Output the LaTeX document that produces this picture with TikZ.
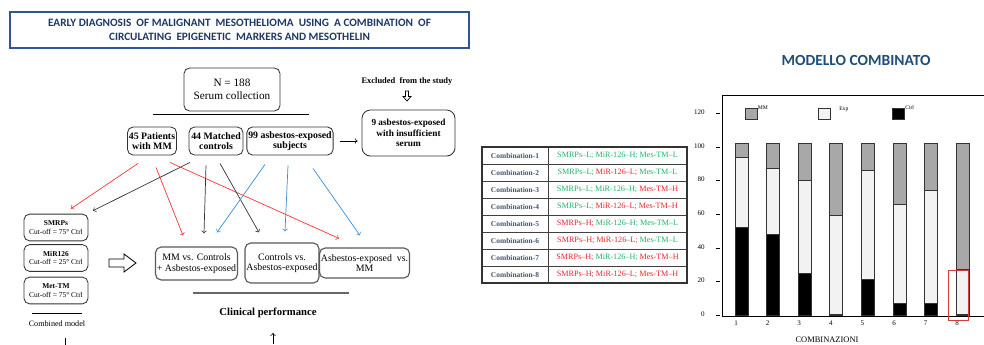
\documentclass[tikz,border=0pt]{standalone}
\usepackage{fontspec}
\setmainfont{Liberation Serif}
\newfontfamily\calibfont{Carlito}
\usepackage{xcolor}
\usetikzlibrary{arrows.meta, positioning, calc}
\definecolor{titleblue}{HTML}{1F3864}
\definecolor{boxblue}{HTML}{2F5597}
\definecolor{mcblue}{HTML}{1F4E79}
\definecolor{tblgray}{HTML}{44546A}
\definecolor{okg}{HTML}{1FB36B}
\definecolor{badr}{HTML}{E8242A}
\definecolor{arrred}{HTML}{FF3434}
\definecolor{arrblue}{HTML}{3A8ED2}
\definecolor{mmfill}{HTML}{A8A8A8}
\definecolor{expfill}{HTML}{F2F2F2}
\definecolor{markred}{HTML}{D23C3C}
\tikzstyle{conn} = [line width=0.5pt,->,>=to]
\tikzset{
  titlebox/.style = {draw = boxblue, line width = 1.4pt, minimum width = 11.475cm,
                     minimum height = 0.9cm, align = center, text = titleblue,
                     font = \calibfont\bfseries\fontsize{8}{9.6}\selectfont},
  flowbox/.style  = {draw = black!80, rounded corners = 4pt, align = center, inner sep = 1pt,
                     line width = 0.6pt},
  subjbox/.style  = {flowbox, minimum height = 0.7cm,
                     font = \bfseries\fontsize{7}{7.6}\selectfont},
  cutbox/.style   = {flowbox, minimum width = 1.6cm, minimum height = 0.67cm,
                     font = \fontsize{5.3}{6}\selectfont},
  cmpbox/.style   = {flowbox, draw = black!65, line width = 0.8pt,
                     font = \fontsize{7}{7.4}\selectfont},
  tblline/.style  = {draw = black!75, line width = 0.5pt},
  tbllab/.style   = {text = tblgray, font = \bfseries\fontsize{5.3}{6}\selectfont},
  tblval/.style   = {font = \fontsize{5.8}{6.5}\selectfont},
  barline/.style  = {draw = black!80, line width = 0.6pt},
  ticklab/.style  = {inner sep = 0pt, font = \fontsize{5}{5.5}\selectfont},
  legtxt/.style   = {inner sep = 0pt, font = \fontsize{4}{4.5}\selectfont}
}

\begin{document}
\begin{tikzpicture}[x=0.025cm, y=-0.025cm]
\useasboundingbox[fill=white] (0,0) rectangle (984,344);

% Title banner
\node[titlebox] (title) at (239.5,30) {EARLY DIAGNOSIS\ \ OF MALIGNANT\ \ MESOTHELIOMA\ \ USING\ \ A COMBINATION\ \ OF\\CIRCULATING\ \ EPIGENETIC\ \ MARKERS AND MESOTHELIN};

% Serum collection and the three groups
\node[flowbox, minimum width=2.4cm, minimum height=1.075cm, font=\fontsize{8}{9.4}\selectfont] (serum) at (232,89.5) {N = 188\\Serum collection};
\draw[line width=0.6pt] (153,114) -- (309,114);
\node[subjbox, minimum width=1.2cm] (mm45) at (152,141) {45 Patients\\with MM};
\node[subjbox, minimum width=1.35cm] (ctl44) at (216,141) {44 Matched\\controls};
\node[subjbox, minimum width=2.1cm] (asb99) at (290,141) {99 asbestos-exposed\\subjects};

% Excluded subjects
\node[font=\bfseries\fontsize{6}{6.5}\selectfont] (excltxt) at (407,81) {Excluded\ \ from the study};
\draw[line width=0.5pt] (405.5,91) -- (408.5,91) -- (408.5,96.5) -- (411,96.5) -- (407,101) -- (403,96.5) -- (405.5,96.5) -- cycle;
\node[subjbox, minimum width=2.325cm, minimum height=1.15cm, rounded corners=6pt, font=\bfseries\fontsize{6.6}{7.4}\selectfont] (excl) at (408.5,133) {9 asbestos-exposed\\with insufficient\\serum};
\draw[conn] ([shift={(6,0)}]asb99.east) -- ([shift={(-4,8)}]excl.west);

% Markers and combined model
\node[cutbox] (smrp) at (56,227.5) {\textbf{SMRPs}\\Cut-off = 75° Ctrl};
\node[cutbox] (mir) at (56,258) {\textbf{MiR126}\\Cut-off = 25° Ctrl};
\node[cutbox] (met) at (56,290.5) {\textbf{Met-TM}\\Cut-off = 75° Ctrl};
\draw[line width=0.6pt] (32,313) -- (82,313);
\node[font=\fontsize{5.8}{6.5}\selectfont] (combo) at (57,324) {Combined model};
\draw[line width=0.6pt] ([shift={(8,6)}]combo.south) -- ++(0,12);
\draw[line width=0.6pt] (109,259) -- (124,259) -- (124,254) -- (136,263) -- (124,272) -- (124,267) -- (109,267) -- cycle;

% Comparisons
\node[cmpbox, minimum width=2.025cm, minimum height=0.825cm] (cmp1) at (196.5,263.5) {MM vs. Controls\\+ Asbestos-exposed};
\node[cmpbox, minimum width=1.75cm, minimum height=1cm] (cmp2) at (282,263) {Controls vs.\\Asbestos-exposed};
\node[cmpbox, minimum width=2.075cm, minimum height=0.75cm] (cmp3) at (364.5,263) {Asbestos-exposed\ \ vs.\\MM};
\draw[black!60, line width=0.9pt] (193,293) -- (349,293);
\node[font=\bfseries\fontsize{7.6}{8}\selectfont] (clin) at (268,313) {Clinical performance};
\coordinate (clinin) at (273,344);
\draw[conn] (clinin) -- ++(0,-11);

% Groups to marker model and comparisons
\draw[conn, arrred] ([shift={(-14,8)}]mm45.south) -- ([shift={(15,-5)}]smrp.north);
\draw[conn, black!80] ([shift={(-26,7)}]ctl44.south) -- ([shift={(37,-3)}]smrp.north);
\draw[conn, arrred] ([shift={(4,12)}]mm45.south) -- ([shift={(-13.5,-11)}]cmp1.north);
\draw[conn, arrred] ([shift={(18,7)}]mm45.south) -- ([shift={(-25.5,-9)}]cmp3.north);
\draw[conn, black!80] ([shift={(-10,10)}]ctl44.south) -- ([shift={(7.5,-13)}]cmp1.north);
\draw[conn, black!80] ([shift={(4,8)}]ctl44.south) -- ([shift={(-23,-10)}]cmp2.north);
\draw[conn, arrblue] ([shift={(-25,9)}]asb99.south) -- ([shift={(20.5,-14)}]cmp1.north);
\draw[conn, arrblue] ([shift={(-2,10)}]asb99.south) -- ([shift={(3,-11)}]cmp2.north);
\draw[conn, arrblue] ([shift={(23,13)}]asb99.south) -- ([shift={(-4.5,-12)}]cmp3.north);

% Table of combinations
\foreach \i/\sa/\ca/\sb/\cb/\sc/\cc in {1/L/okg/H/okg/L/okg, 2/L/okg/L/badr/L/okg,
    3/L/okg/H/okg/H/badr, 4/L/okg/L/badr/H/badr, 5/H/badr/H/okg/L/okg,
    6/H/badr/L/badr/L/okg, 7/H/badr/H/okg/H/badr, 8/H/badr/L/badr/H/badr} {
  \draw[tblline] (482,{147+17*(\i-1)}) rectangle (548,{147+17*\i});
  \draw[tblline] (548,{147+17*(\i-1)}) rectangle (687,{147+17*\i});
  \node[tbllab] (cl\i) at (515,{138.5+17*\i}) {Combination-\i};
  \node[tblval] (cv\i) at (617.5,{138.5+17*\i}) {\textcolor{\ca}{SMRPs--\sa;} \textcolor{\cb}{MiR-126--\sb;} \textcolor{\cc}{Mes-TM--\sc}};
}
\draw[black!80, line width=0.9pt] (482,147) rectangle (687,283);

% Bar chart
\node[font=\calibfont\bfseries\fontsize{11}{13}\selectfont, text=mcblue] (mctitle) at (856,60) {MODELLO COMBINATO};
\draw[line width=0.7pt] (984,95) -- (722,95) -- (722,316) -- (984,316);
\foreach \v in {0,20,...,120} {
  \draw[line width=0.4pt] (716,{315-1.68*\v}) -- (720,{315-1.68*\v});
  \node[ticklab, anchor=east] (yt\v) at (705,{314-1.68*\v}) {\v};
}
\foreach \i/\c/\e in {1/52/94, 2/48/87, 3/25/80, 4/0.6/59, 5/21/86, 6/7/66, 7/7/74, 8/0.6/27} {
  \pgfmathsetmacro\xl{735+31.6*(\i-1)}
  \draw[barline, fill=black] (\xl,315) rectangle ({\xl+13},{315-1.68*\c});
  \draw[barline, fill=expfill] (\xl,{315-1.68*\c}) rectangle ({\xl+13},{315-1.68*\e});
  \draw[barline, fill=mmfill] (\xl,{315-1.68*\e}) rectangle ({\xl+13},{315-1.68*102});
  \node[ticklab] (xt\i) at ({\xl+1},323) {\i};
}
\draw[markred, line width=0.6pt] (948,270) rectangle (968,320);
\node[ticklab, anchor=south, font=\fontsize{6}{6.5}\selectfont] (xtitle) at (827,342.5) {COMBINAZIONI};

% Legend
\draw[barline, fill=mmfill] (745,108) rectangle (757,119);
\node[legtxt, anchor=north west] (lgmm) at (757.5,106) {MM};
\draw[barline, fill=expfill] (818,108) rectangle (830,119);
\node[legtxt, anchor=north west] (lgexp) at (839,107) {Exp};
\draw[barline, fill=black] (892,108) rectangle (904,119);
\node[legtxt, anchor=north west] (lgctrl) at (905,105) {Ctrl};
\end{tikzpicture}
\end{document}
